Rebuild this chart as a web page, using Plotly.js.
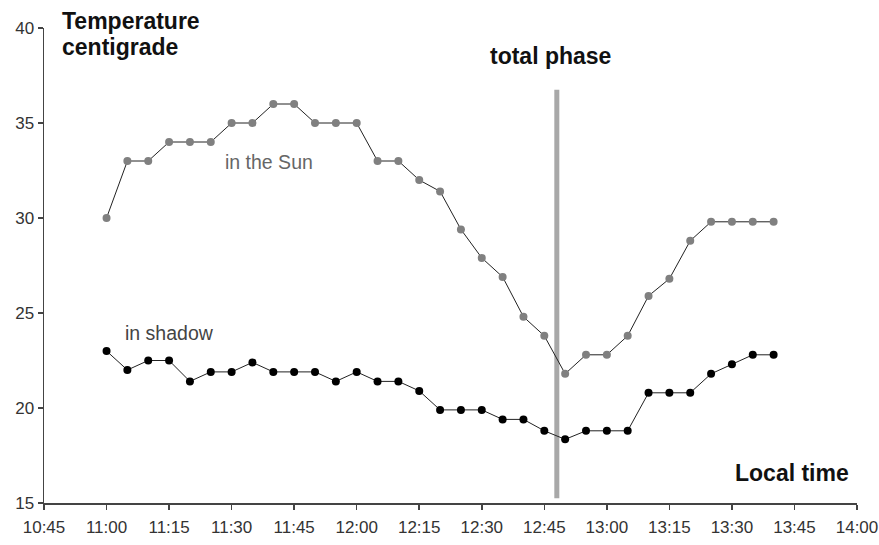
<!DOCTYPE html>
<html>
<head>
<meta charset="utf-8">
<script src="https://cdn.plot.ly/plotly-3.0.1.min.js"></script>
<style>html,body{margin:0;padding:0;background:#fff;}#chart{width:879px;height:545px;}</style>
</head>
<body>
<div id="chart"></div>
<script>
const times = ["11:00","11:05","11:10","11:15","11:20","11:25","11:30","11:35","11:40","11:45","11:50","11:55",
  "12:00","12:05","12:10","12:15","12:20","12:25","12:30","12:35","12:40","12:45","12:50","12:55",
  "13:00","13:05","13:10","13:15","13:20","13:25","13:30","13:35","13:40"];
const sunTemps = [30,33,33,34,34,34,35,35,36,36,35,35,
  35,33,33,32,31.4,29.4,27.9,26.9,24.8,23.8,21.8,22.8,
  22.8,23.8,25.9,26.8,28.8,29.8,29.8,29.8,29.8];
const shadowTemps = [23,22,22.5,22.5,21.4,21.9,21.9,22.4,21.9,21.9,21.9,21.4,
  21.9,21.4,21.4,20.9,19.9,19.9,19.9,19.4,19.4,18.8,18.35,18.8,
  18.8,18.8,20.8,20.8,20.8,21.8,22.3,22.8,22.8];
const totalPhaseTime = ["12:48"];
const totalPhaseRange = [15.25, 36.75];
const xTickLabels = ["10:45","11:00","11:15","11:30","11:45","12:00","12:15","12:30","12:45","13:00","13:15","13:30","13:45","14:00"];
const yTicks = [15,20,25,30,35,40];

const day = "2000-01-01 ";
const toDate = t => day + t;

const traces = [
  {x: times.map(toDate), y: sunTemps, mode: "lines+markers", name: "in the Sun",
   line: {color: "#222", width: 1}, marker: {color: "#808080", size: 8, line: {width: 0}}},
  {x: times.map(toDate), y: shadowTemps, mode: "lines+markers", name: "in shadow",
   line: {color: "#222", width: 1}, marker: {color: "#000", size: 8, line: {width: 0}}}
];

const L = 44, T = 28, W = 813, H = 475;
const px = v => (v - L) / W;
const py = v => (T + H - v) / H;

const font = "Liberation Sans, Arial, sans-serif";
const layout = {
  width: 879, height: 545,
  margin: {l: L, r: 879 - L - W, t: T, b: 545 - T - H},
  paper_bgcolor: "#fff", plot_bgcolor: "#fff",
  showlegend: false,
  font: {family: font, color: "#333", size: 17},
  xaxis: {type: "date", range: [toDate(xTickLabels[0]), toDate(xTickLabels[xTickLabels.length-1])],
    tickvals: xTickLabels.map(toDate), ticktext: xTickLabels,
    showgrid: false, zeroline: false, showline: true, linecolor: "#444", linewidth: 1.5,
    ticks: "outside", ticklen: 5, tickcolor: "#444", tickwidth: 1.5, ticklabelstandoff: 3,
    tickfont: {size: 17, color: "#333"}},
  yaxis: {range: [15, 40], tickvals: yTicks, showgrid: false, zeroline: false,
    showline: true, linecolor: "#444", linewidth: 1.5,
    ticks: "outside", ticklen: 5, tickcolor: "#444", tickwidth: 1.5,
    tickfont: {size: 17, color: "#333"}},
  shapes: [{type: "line", xref: "x", yref: "y",
    x0: toDate(totalPhaseTime[0]), x1: toDate(totalPhaseTime[0]),
    y0: totalPhaseRange[0], y1: totalPhaseRange[1],
    line: {color: "#a8a8a8", width: 5}, layer: "below"}],
  annotations: [
    {text: "<b>Temperature</b>", xref: "paper", yref: "paper", x: px(60), y: py(6), xanchor: "left", yanchor: "top",
     showarrow: false, font: {size: 23, color: "#111", family: font}},
    {text: "<b>centigrade</b>", xref: "paper", yref: "paper", x: px(60), y: py(32), xanchor: "left", yanchor: "top",
     showarrow: false, font: {size: 23, color: "#111", family: font}},
    {text: "<b>total phase</b>", xref: "paper", yref: "paper", x: px(550.5), y: py(56), xanchor: "center", yanchor: "middle",
     showarrow: false, font: {size: 23, color: "#111", family: font}},
    {text: "<b>Local time</b>", xref: "paper", yref: "paper", x: px(851), y: py(473), xanchor: "right", yanchor: "middle",
     showarrow: false, font: {size: 23, color: "#111", family: font}},
    {text: "in the Sun", xref: "paper", yref: "paper", x: px(223), y: py(162), xanchor: "left", yanchor: "middle",
     showarrow: false, font: {size: 19.5, color: "#666", family: font}},
    {text: "in shadow", xref: "paper", yref: "paper", x: px(123), y: py(333), xanchor: "left", yanchor: "middle",
     showarrow: false, font: {size: 19.5, color: "#444", family: font}}
  ]
};

Plotly.newPlot("chart", traces, layout, {displayModeBar: false, staticPlot: true});
</script>
</body>
</html>
